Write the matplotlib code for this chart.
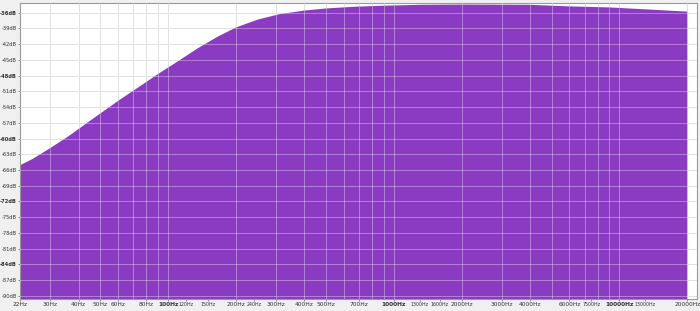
import matplotlib.pyplot as plt
import numpy as np

# spectrum (Hz, dB)
freqs = [22, 25, 30, 36, 45, 60, 75, 90, 110, 135, 165, 200, 250, 310,
         400, 500, 650, 850, 1300, 2000, 4000, 6000, 9000, 13500, 20000]
levels = [-65.1, -63.9, -61.8, -59.6, -56.6, -52.8, -50.0, -47.7, -45.3,
          -42.8, -40.6, -38.8, -37.3, -36.3, -35.6, -35.2, -34.9, -34.7,
          -34.5, -34.45, -34.5, -34.8, -35.0, -35.4, -35.8]

db_ticks = list(range(-36, -91, -3))
db_bold = [-36, -48, -60, -72, -84]

hz_ticks = [22, 30, 40, 50, 60, 80, 100, 120, 150, 200, 240, 300, 400, 500,
            700, 1000, 1300, 1600, 2000, 3000, 4000, 6000, 7500, 10000,
            13000, 20000]
hz_bold = [100, 1000, 10000]
hz_small = [120, 150, 240, 1300, 1600, 7500, 13000]

grid_hz = [m * d for d in (10, 100, 1000, 10000) for m in range(1, 10)
           if 30 <= m * d <= 20000]

fig = plt.figure(figsize=(7.0, 3.11), dpi=100, facecolor='#f0f0f0')
ax = fig.add_axes([0.0286, 0.0386, 0.967, 0.9527])
ax.set_facecolor('white')

ax.fill_between(freqs, levels, -100, color='#8a3bc2', linewidth=0, zorder=2)

# grey grid on the white part, pale grid over the purple
for f in grid_hz:
    ax.axvline(f, color='#cfcfcf', linewidth=0.7, zorder=1)
    ax.axvline(f, color='white', alpha=0.35, linewidth=0.7, zorder=3)
for d in db_ticks:
    ax.axhline(d, color='#cfcfcf', linewidth=0.7, zorder=1)
    ax.axhline(d, color='white', alpha=0.35, linewidth=0.7, zorder=3)

ax.set_xscale('log')
ax.set_xlim(22, 22050)
ax.set_ylim(-90.6, -34.1)

ax.set_yticks(db_ticks)
ax.set_yticklabels([f'{d}dB' for d in db_ticks])
for lab, d in zip(ax.get_yticklabels(), db_ticks):
    lab.set_fontsize(3.7)
    lab.set_color('#333333')
    if d in db_bold:
        lab.set_fontweight('bold')

ax.set_xticks(hz_ticks)
ax.xaxis.set_minor_locator(plt.NullLocator())
ax.set_xticklabels([f'{f}Hz' for f in hz_ticks])
for lab, f in zip(ax.get_xticklabels(), hz_ticks):
    lab.set_color('#333333')
    lab.set_fontsize(3.4 if f in hz_small else 4.2)
    if f in hz_bold:
        lab.set_fontweight('bold')

ax.tick_params(axis='both', length=1.5, width=0.5, color='#666666', pad=0.8)
for s in ax.spines.values():
    s.set_color('#999999')
    s.set_linewidth(0.8)

plt.savefig('out.png', dpi=100, facecolor=fig.get_facecolor())
